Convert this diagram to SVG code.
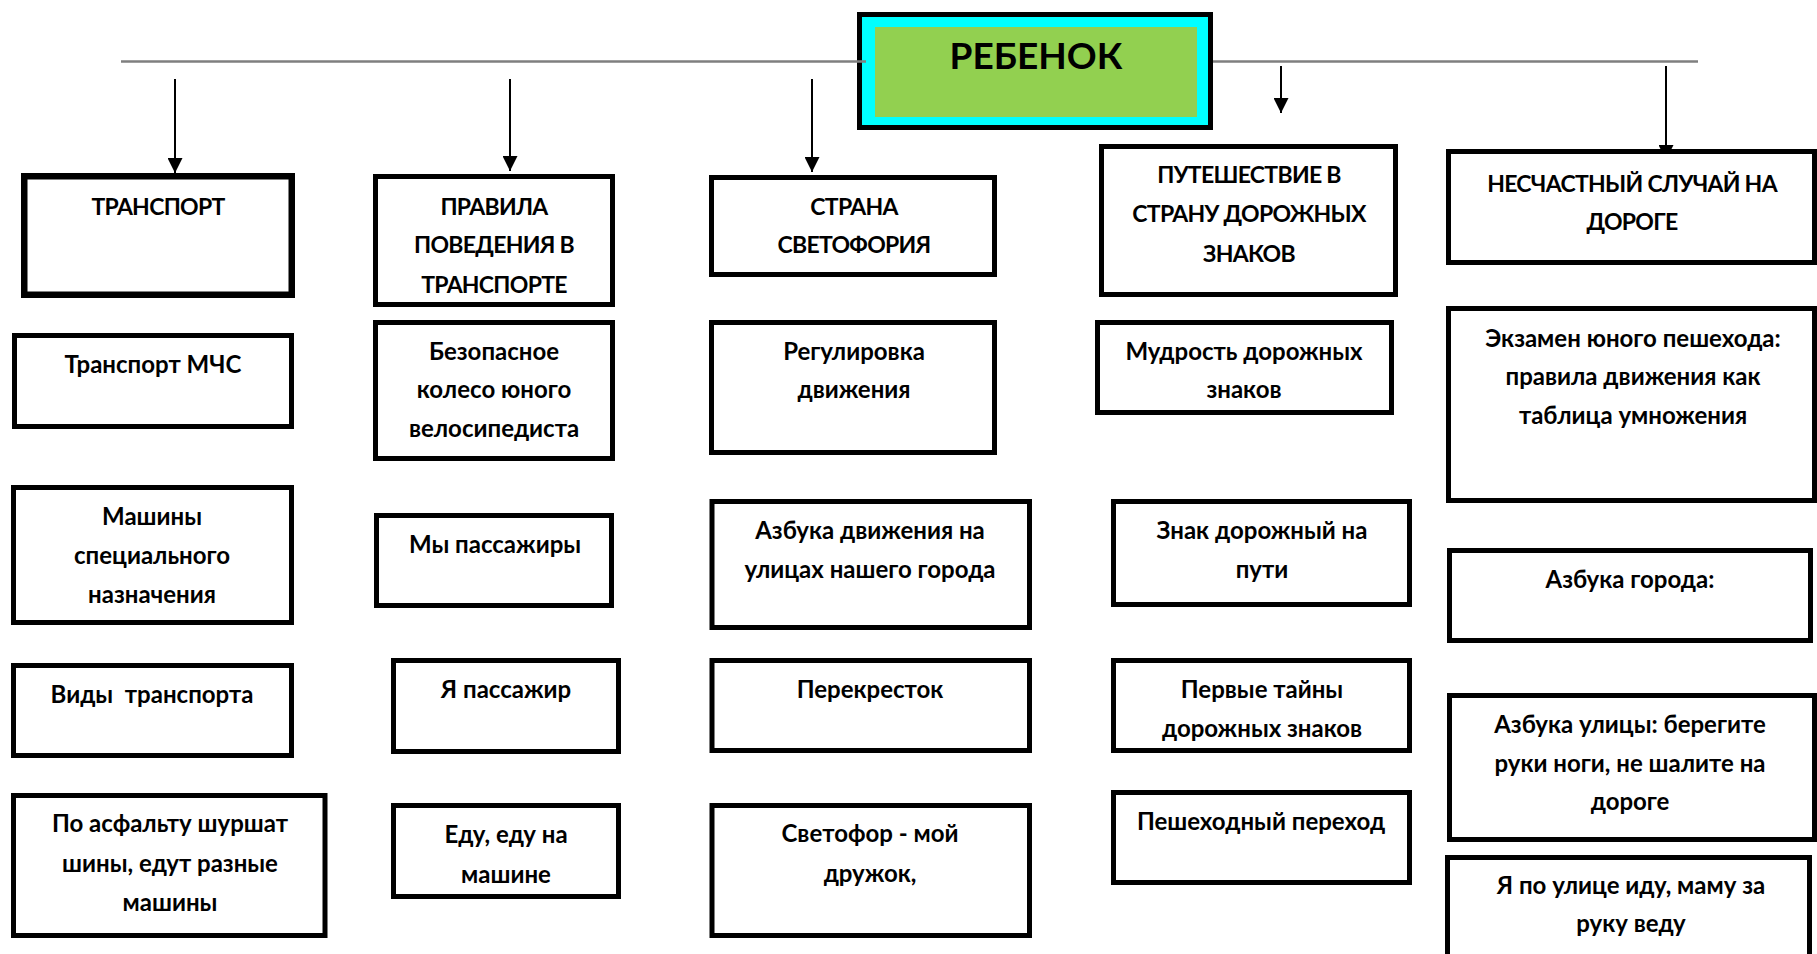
<svg xmlns="http://www.w3.org/2000/svg" width="1817" height="954" viewBox="0 0 1817 954">
<style>
.box{fill:#fff;stroke:#000;stroke-width:5}
.thick{stroke-width:6.5}
.t{font-family:Lato,"Open Sans","Liberation Sans",sans-serif;font-weight:bold;font-size:24px;fill:#000;text-anchor:middle}
.cap{font-size:23px;letter-spacing:-0.7px}
.title{font-size:37px;letter-spacing:0}
.arrow{stroke:#000;stroke-width:2;fill:none;marker-end:url(#ah)}
.hl{stroke:#7f7f7f;stroke-width:2.5;fill:none}
</style>
<defs>
<marker id="ah" viewBox="0 0 10 10" markerUnits="userSpaceOnUse" markerWidth="15" markerHeight="15" refX="10" refY="5" orient="auto">
<path d="M0,0 L10,5 L0,10 z" fill="#000"/>
</marker>
</defs>
<rect width="1817" height="954" fill="#fff"/>

<g id="center">
<rect x="859.5" y="14.5" width="351" height="113" fill="#00ffff" stroke="#000" stroke-width="5"/>
<rect x="875" y="27" width="322" height="90" fill="#92d050"/>
<text class="t title" x="1036" y="69">РЕБЕНОК</text>
</g>

<g id="connectors">
<line class="hl" x1="121" y1="61.5" x2="866" y2="61.5"/>
<line class="hl" x1="1213" y1="61.5" x2="1698" y2="61.5"/>
<line class="arrow" x1="175" y1="79" x2="175" y2="173"/>
<line class="arrow" x1="510" y1="79" x2="510" y2="171"/>
<line class="arrow" x1="812" y1="79" x2="812" y2="172"/>
<line class="arrow" x1="1281" y1="66" x2="1281" y2="113"/>
<line class="arrow" x1="1666" y1="66" x2="1666" y2="160"/>
</g>

<g id="n-transport"><rect class="box thick" x="24.25" y="176.25" width="267.5" height="118.5"/>
<text class="t cap" x="158" y="215">ТРАНСПОРТ</text></g>
<g id="n-mchs"><rect class="box" x="14.5" y="335.5" width="277" height="91"/>
<text class="t" x="153" y="373">Транспорт МЧС</text></g>
<g id="n-mashiny"><rect class="box" x="13.5" y="487.5" width="278" height="135"/>
<text class="t" x="152" y="525">Машины</text><text class="t" x="152" y="564">специального</text><text class="t" x="152" y="603">назначения</text></g>
<g id="n-vidy"><rect class="box" x="13.5" y="665.5" width="278" height="90"/>
<text class="t" x="152" y="703" xml:space="preserve">Виды  транспорта</text></g>
<g id="n-asfalt"><rect class="box" x="13.5" y="795.5" width="311.5" height="140"/>
<text class="t" x="170" y="832">По асфальту шуршат</text><text class="t" x="170" y="872">шины, едут разные</text><text class="t" x="170" y="911">машины</text></g>

<g id="n-pravila"><rect class="box" x="375.5" y="176.5" width="237" height="128"/>
<text class="t cap" x="494" y="215">ПРАВИЛА</text><text class="t cap" x="494" y="253">ПОВЕДЕНИЯ В</text><text class="t cap" x="494" y="293">ТРАНСПОРТЕ</text></g>
<g id="n-bezopasnoe"><rect class="box" x="375.5" y="322.5" width="237" height="136"/>
<text class="t" x="494" y="360">Безопасное</text><text class="t" x="494" y="398">колесо юного</text><text class="t" x="494" y="437">велосипедиста</text></g>
<g id="n-my"><rect class="box" x="376.5" y="515.5" width="235" height="90"/>
<text class="t" x="495" y="553">Мы пассажиры</text></g>
<g id="n-ya"><rect class="box" x="393.5" y="660.5" width="225" height="91"/>
<text class="t" x="506" y="698">Я пассажир</text></g>
<g id="n-edu"><rect class="box" x="393.5" y="805.5" width="225" height="91"/>
<text class="t" x="506" y="843">Еду, еду на</text><text class="t" x="506" y="883">машине</text></g>

<g id="n-strana"><rect class="box" x="711.5" y="177.5" width="283" height="97"/>
<text class="t cap" x="854" y="215">СТРАНА</text><text class="t cap" x="854" y="253">СВЕТОФОРИЯ</text></g>
<g id="n-regul"><rect class="box" x="711.5" y="322.5" width="283" height="130"/>
<text class="t" x="854" y="360">Регулировка</text><text class="t" x="854" y="398">движения</text></g>
<g id="n-azbuka-dv"><rect class="box" x="712" y="501.5" width="317.5" height="126"/>
<text class="t" x="870" y="539">Азбука движения на</text><text class="t" x="870" y="578">улицах нашего города</text></g>
<g id="n-perekr"><rect class="box" x="712" y="660.5" width="317.5" height="90"/>
<text class="t" x="870" y="698">Перекресток</text></g>
<g id="n-svetofor"><rect class="box" x="712" y="805.5" width="317.5" height="130"/>
<text class="t" x="870" y="842">Светофор - мой</text><text class="t" x="870" y="882">дружок,</text></g>

<g id="n-puteshestvie"><rect class="box" x="1101.5" y="146.5" width="294" height="148"/>
<text class="t cap" x="1249" y="183">ПУТЕШЕСТВИЕ В</text><text class="t cap" x="1249" y="222">СТРАНУ ДОРОЖНЫХ</text><text class="t cap" x="1249" y="262">ЗНАКОВ</text></g>
<g id="n-mudrost"><rect class="box" x="1097.5" y="322.5" width="294" height="90"/>
<text class="t" x="1244" y="360">Мудрость дорожных</text><text class="t" x="1244" y="398">знаков</text></g>
<g id="n-znak"><rect class="box" x="1113.5" y="501.5" width="296" height="103"/>
<text class="t" x="1262" y="539">Знак дорожный на</text><text class="t" x="1262" y="578">пути</text></g>
<g id="n-pervye"><rect class="box" x="1113.5" y="660.5" width="296" height="90"/>
<text class="t" x="1262" y="698">Первые тайны</text><text class="t" x="1262" y="737">дорожных знаков</text></g>
<g id="n-peshehod"><rect class="box" x="1113.5" y="792.5" width="296" height="90"/>
<text class="t" x="1261" y="830">Пешеходный переход</text></g>

<g id="n-neschast"><rect class="box" x="1448.5" y="151.5" width="366" height="111"/>
<text class="t cap" x="1632" y="192">НЕСЧАСТНЫЙ СЛУЧАЙ НА</text><text class="t cap" x="1632" y="230">ДОРОГЕ</text></g>
<g id="n-ekzamen"><rect class="box" x="1448.5" y="308.5" width="366" height="192"/>
<text class="t" x="1633" y="347">Экзамен юного пешехода:</text><text class="t" x="1633" y="385">правила движения как</text><text class="t" x="1633" y="424">таблица умножения</text></g>
<g id="n-azbuka-gor"><rect class="box" x="1449.5" y="550.5" width="361" height="90"/>
<text class="t" x="1630" y="588">Азбука города:</text></g>
<g id="n-azbuka-ul"><rect class="box" x="1449.5" y="695.5" width="365" height="144"/>
<text class="t" x="1630" y="733">Азбука улицы: берегите</text><text class="t" x="1630" y="772">руки ноги, не шалите на</text><text class="t" x="1630" y="810">дороге</text></g>
<g id="n-ya-po"><rect class="box" x="1447.5" y="857.5" width="362" height="120"/>
<text class="t" x="1631" y="894">Я по улице иду, маму за</text><text class="t" x="1631" y="932">руку веду</text></g>
</svg>
